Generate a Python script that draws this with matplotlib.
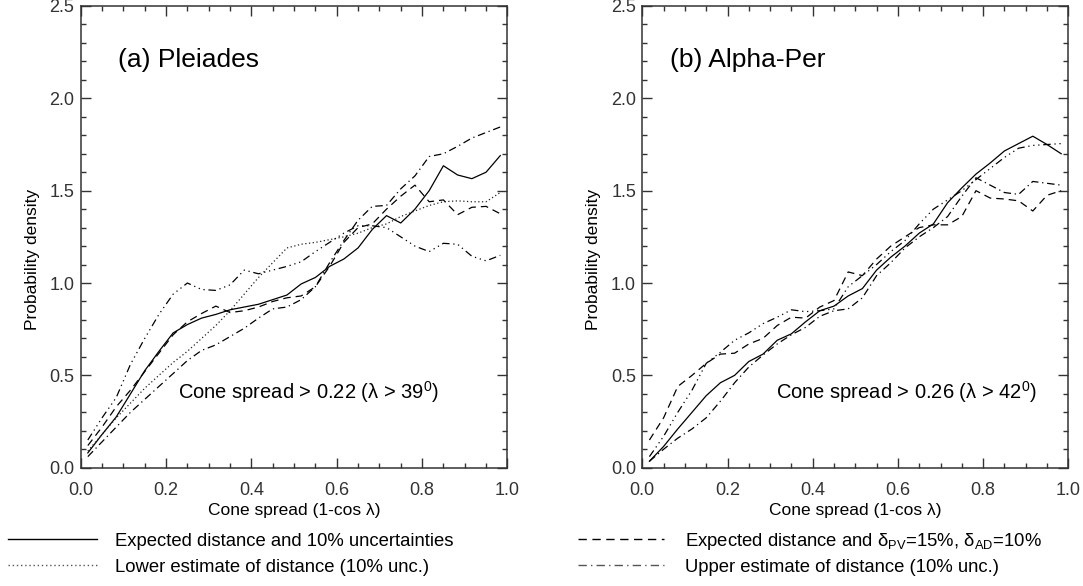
import matplotlib
matplotlib.use("Agg")
import matplotlib.pyplot as plt
from matplotlib.lines import Line2D
from matplotlib.ticker import MultipleLocator, FormatStrFormatter

plt.rcParams['font.family'] = ['Liberation Sans', 'DejaVu Sans']
plt.rcParams['mathtext.fontset'] = 'custom'
plt.rcParams['mathtext.rm'] = 'Liberation Sans'
plt.rcParams['mathtext.it'] = 'Liberation Sans'

# bin centres of cone spread (1 - cos lambda)
cone = [0.0167, 0.05, 0.0833, 0.1167, 0.15, 0.1833, 0.2167, 0.25, 0.2833, 0.3167,
        0.35, 0.3833, 0.4167, 0.45, 0.4833, 0.5167, 0.55, 0.5833, 0.6167, 0.65,
        0.6833, 0.7167, 0.75, 0.7833, 0.8167, 0.85, 0.8833, 0.9167, 0.95, 0.9833]

# (a) Pleiades
a_expected = [0.08, 0.18, 0.275, 0.40, 0.525, 0.63, 0.73, 0.775, 0.81, 0.83,
              0.855, 0.87, 0.885, 0.91, 0.935, 0.995, 1.03, 1.09, 1.13, 1.19,
              1.29, 1.365, 1.325, 1.40, 1.50, 1.635, 1.585, 1.565, 1.60, 1.69]
a_pv15 = [0.12, 0.22, 0.33, 0.42, 0.52, 0.62, 0.72, 0.79, 0.835, 0.875,
          0.84, 0.85, 0.87, 0.90, 0.92, 0.93, 0.98, 1.09, 1.22, 1.30,
          1.32, 1.40, 1.47, 1.53, 1.44, 1.45, 1.37, 1.41, 1.415, 1.375]
a_lower = [0.09, 0.18, 0.27, 0.35, 0.43, 0.50, 0.57, 0.63, 0.70, 0.77,
           0.85, 0.94, 1.03, 1.11, 1.19, 1.21, 1.22, 1.235, 1.25, 1.27,
           1.30, 1.32, 1.36, 1.39, 1.42, 1.44, 1.445, 1.44, 1.44, 1.49]
a_upper = [0.06, 0.14, 0.22, 0.30, 0.37, 0.44, 0.51, 0.58, 0.635, 0.665,
           0.71, 0.755, 0.81, 0.86, 0.87, 0.91, 0.98, 1.11, 1.23, 1.34,
           1.415, 1.42, 1.51, 1.58, 1.685, 1.70, 1.74, 1.785, 1.815, 1.845]
a_other = [0.15, 0.27, 0.38, 0.56, 0.70, 0.83, 0.94, 1.00, 0.965, 0.96,
           0.99, 1.07, 1.05, 1.07, 1.09, 1.115, 1.17, 1.22, 1.27, 1.31,
           1.31, 1.30, 1.25, 1.20, 1.17, 1.215, 1.21, 1.145, 1.12, 1.15]

# (b) Alpha-Per
b_expected = [0.035, 0.115, 0.21, 0.30, 0.39, 0.46, 0.50, 0.575, 0.615, 0.69,
              0.725, 0.79, 0.85, 0.875, 0.93, 0.97, 1.07, 1.14, 1.20, 1.27,
              1.32, 1.435, 1.515, 1.59, 1.65, 1.715, 1.755, 1.795, 1.75, 1.70]
b_pv15 = [0.15, 0.27, 0.44, 0.50, 0.565, 0.615, 0.62, 0.67, 0.70, 0.77,
          0.815, 0.81, 0.87, 0.905, 1.06, 1.04, 1.13, 1.20, 1.25, 1.30,
          1.315, 1.315, 1.36, 1.50, 1.46, 1.455, 1.445, 1.39, 1.475, 1.50]
b_upper = [0.035, 0.10, 0.16, 0.21, 0.27, 0.36, 0.46, 0.545, 0.61, 0.67,
           0.72, 0.76, 0.82, 0.85, 0.86, 0.92, 1.04, 1.11, 1.19, 1.25,
           1.30, 1.36, 1.47, 1.57, 1.53, 1.49, 1.48, 1.55, 1.54, 1.53]
b_other = [0.06, 0.17, 0.30, 0.42, 0.565, 0.625, 0.69, 0.73, 0.78, 0.815,
           0.855, 0.845, 0.85, 0.86, 0.98, 1.04, 1.10, 1.17, 1.23, 1.32,
           1.40, 1.45, 1.50, 1.56, 1.62, 1.68, 1.73, 1.745, 1.75, 1.755]

legend_labels = ["Expected distance and 10% uncertainties",
                 "Lower estimate of distance (10% unc.)",
                 "Expected distance and δ$_{\\mathrm{PV}}$=15%, δ$_{\\mathrm{AD}}$=10%",
                 "Upper estimate of distance (10% unc.)"]

LS_SOLID = '-'
LS_DASH = (0, (6, 4))
LS_DOT = (0, (1, 2))
LS_DASHDOT = (0, (6, 3, 1, 3))
LS_DASH3DOT = (0, (6, 3, 1, 3, 1, 3, 1, 3))

W, H = 1083, 586
fig = plt.figure(figsize=(W / 100, H / 100), dpi=100)

ax_a = fig.add_axes([80.7 / W, 1 - 467.7 / H, 426.7 / W, 461.7 / H])
ax_b = fig.add_axes([642.3 / W, 1 - 467.7 / H, 426.0 / W, 461.7 / H])

lw = 0.9
ax_a.plot(cone, a_expected, color='black', lw=lw, ls=LS_SOLID)
ax_a.plot(cone, a_pv15, color='black', lw=lw, ls=LS_DASH)
ax_a.plot(cone, a_lower, color='#222222', lw=lw, ls=LS_DOT)
ax_a.plot(cone, a_upper, color='black', lw=lw, ls=LS_DASHDOT)
ax_a.plot(cone, a_other, color='black', lw=lw, ls=LS_DASH3DOT)

ax_b.plot(cone, b_expected, color='black', lw=lw, ls=LS_SOLID)
ax_b.plot(cone, b_pv15, color='black', lw=lw, ls=LS_DASH)
ax_b.plot(cone, b_upper, color='black', lw=lw, ls=LS_DASHDOT)
ax_b.plot(cone, b_other, color='black', lw=lw, ls=LS_DASH3DOT)

for ax in (ax_a, ax_b):
    ax.set_xlim(0, 1.0)
    ax.set_ylim(0, 2.5)
    ax.xaxis.set_major_locator(MultipleLocator(0.2))
    ax.xaxis.set_minor_locator(MultipleLocator(0.05))
    ax.yaxis.set_major_locator(MultipleLocator(0.5))
    ax.yaxis.set_minor_locator(MultipleLocator(0.1))
    ax.xaxis.set_major_formatter(FormatStrFormatter('%.1f'))
    ax.yaxis.set_major_formatter(FormatStrFormatter('%.1f'))
    ax.tick_params(which='both', direction='in', top=True, right=True,
                   color='#333333', width=1.0)
    ax.tick_params(which='major', length=7)
    ax.tick_params(which='minor', length=3.5)
    ax.tick_params(axis='x', which='major', pad=10, labelsize=13, labelcolor='#333333')
    ax.tick_params(axis='y', which='major', pad=4.5, labelsize=13, labelcolor='#333333')
    for s in ax.spines.values():
        s.set_linewidth(1.1)
        s.set_color('#333333')
    ax.set_xlabel("Cone spread (1-cos λ)", fontsize=12.5, labelpad=3)
    ax.set_ylabel("Probability density", fontsize=12.5)
    ax.yaxis.set_label_coords(-0.096, 0.452)

ax_a.text(0.087, 2.17, "(a) Pleiades", fontsize=19, va='baseline', ha='left')
ax_b.text(0.064, 2.17, "(b) Alpha-Per", fontsize=19, va='baseline', ha='left')
ax_a.text(0.228, 0.375, "Cone spread > 0.22 (λ > 39$^{0}$)", fontsize=14.5,
          va='baseline', ha='left')
ax_b.text(0.315, 0.375, "Cone spread > 0.26 (λ > 42$^{0}$)", fontsize=14.5,
          va='baseline', ha='left')

# legend below the panels
leg_rows = [(8, 97, 115, 539, LS_SOLID, '#000000', legend_labels[0]),
            (8, 97, 115, 565, LS_DOT, '#555555', legend_labels[1]),
            (578, 664, 685, 539, LS_DASH, '#000000', legend_labels[2]),
            (578, 664, 685, 565, LS_DASHDOT, '#555555', legend_labels[3])]
for x0, x1, xt, y, ls, col, lab in leg_rows:
    fig.add_artist(Line2D([x0 / W, x1 / W], [1 - y / H, 1 - y / H],
                          transform=fig.transFigure, color=col, lw=1.0, ls=ls))
    fig.text(xt / W, 1 - (y + 2) / H, lab, fontsize=13.3, va='center', ha='left')

fig.savefig("out.png", dpi=100)
